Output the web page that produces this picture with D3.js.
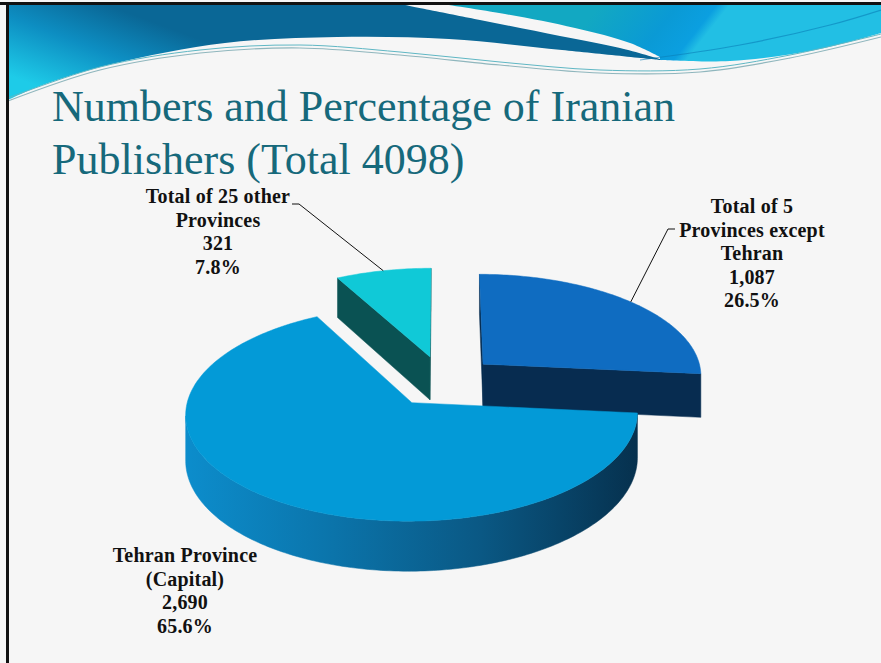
<!DOCTYPE html>
<html>
<head>
<meta charset="utf-8">
<script src="https://cdn.jsdelivr.net/npm/d3@7"></script>
<style>
  html, body { margin: 0; padding: 0; background: #f6f6f6; }
  svg { display: block; }
</style>
</head>
<body>
<script>
// ---- data -------------------------------------------------------------
const categories = ["Total of 5 Provinces except Tehran", "Tehran Province (Capital)", "Total of 25 other Provinces"];
const labelLines = [["Total of 5", "Provinces except", "Tehran"], ["Tehran Province", "(Capital)"], ["Total of 25 other", "Provinces"]];
const publishers = [1087, 2690, 321];
const titleLines = ["Numbers and Percentage of Iranian", "Publishers (Total {total})"];

// ---- styling / layout ---------------------------------------------------
const W = 881, H = 663;
const topColors  = ["#0f6cc1", "#039ad7", "#10c9d7"];
const wallColors = ["#072c50", "url(#tehranWall)", "#0a5253"];
const labelLayout = [
  { x: 752, y: 213, leader: [[675, 229], [668, 229]] },
  { x: 185, y: 562, leader: null },
  { x: 218, y: 203, leader: [[292, 204], [299, 204]] }
];
const lineGap = 23.5;

// 3D pie geometry (unit-radius disc, perspective projection)
const geo = { cx: 443, cy: 381, kx: 220, ky: 102, persp: 0.1, depth: 44, explode: 0.25 };

const svg = d3.select("body").append("svg").attr("width", W).attr("height", H);
const defs = svg.append("defs");

svg.append("rect").attr("width", W).attr("height", H).attr("fill", "#f6f6f6");

// ---- slide header decoration --------------------------------------------
const gL = defs.append("linearGradient").attr("id", "hdrLeft")
  .attr("gradientUnits", "userSpaceOnUse").attr("x1", 110).attr("y1", 6).attr("x2", 75).attr("y2", 100);
gL.append("stop").attr("offset", 0).attr("stop-color", "#0a6796");
gL.append("stop").attr("offset", 0.45).attr("stop-color", "#0d8ec2");
gL.append("stop").attr("offset", 1).attr("stop-color", "#1ecbe8");

const gR = defs.append("linearGradient").attr("id", "hdrRight")
  .attr("gradientUnits", "userSpaceOnUse").attr("x1", 600).attr("y1", 5).attr("x2", 680).attr("y2", 68);
gR.append("stop").attr("offset", 0).attr("stop-color", "#12a8c2");
gR.append("stop").attr("offset", 0.6).attr("stop-color", "#0a9ad5");
gR.append("stop").attr("offset", 0.9).attr("stop-color", "#0b9fe0");
gR.append("stop").attr("offset", 1).attr("stop-color", "#22bfe4");

const smooth = d3.line().curve(d3.curveCatmullRom.alpha(0.5));
const lowerEdge = [[881, 33], [815, 50], [730, 61], [660, 60], [562, 50], [449, 39], [337, 37], [225, 43], [112, 64], [40, 86], [8, 100]];

svg.append("path")
  .attr("d", "M8,4 L400,4 " + smooth([[400, 4], [480, 20], [560, 36], [620, 48], [660, 59]]).replace(/^M/, "L") +
    smooth(lowerEdge.slice(3)).replace(/^M/, "L") + " Z")
  .attr("fill", "url(#hdrLeft)");

svg.append("path")
  .attr("d", "M442,4 L881,4 " + smooth(lowerEdge.slice(0, 4)).replace(/^M/, "L") +
    smooth([[660, 57], [630, 43], [575, 28], [505, 14], [442, 4]]).replace(/^M/, "L") + " Z")
  .attr("fill", "url(#hdrRight)");

// faint highlight streak across the right band
svg.append("path")
  .attr("d", smooth([[640, 60], [740, 45], [830, 25], [881, 10]]))
  .attr("fill", "none").attr("stroke", "#0a7fb8").attr("stroke-width", 1.2).attr("opacity", 0.6);

// thin double wave under the band
const waveA = [[8, 101], [100, 70], [200, 53], [300, 48], [400, 55], [500, 65], [600, 73], [700, 72], [790, 58], [881, 37]];
svg.append("path").attr("d", smooth(waveA)).attr("fill", "none")
  .attr("stroke", "#8fb6bd").attr("stroke-width", 1.2);
svg.append("path").attr("d", smooth(waveA.map(([x, y]) => [x, y - 3]))).attr("fill", "none")
  .attr("stroke", "#5fb7c4").attr("stroke-width", 1);

// slide frame
svg.append("rect").attr("x", 0).attr("y", 2).attr("width", W).attr("height", 3).attr("fill", "#111");
svg.append("rect").attr("x", 6).attr("y", 2).attr("width", 3).attr("height", H).attr("fill", "#111");

// ---- title -------------------------------------------------------------
const total = d3.sum(publishers);
svg.append("g").selectAll("text").data(titleLines).join("text")
  .attr("x", 52).attr("y", (d, i) => 121 + i * 53)
  .attr("font-family", "'Liberation Serif', 'Times New Roman', serif")
  .attr("font-size", 44).attr("fill", "#16697b")
  .text(d => d.replace("{total}", total));

// ---- 3D pie --------------------------------------------------------------
const pie = d3.pie().sort(null).startAngle(0).endAngle(2 * Math.PI);
const arcs = pie(publishers);

function proj(X, Z, down) {
  const s = 1 / (1 + geo.persp * Z);
  return [geo.cx + geo.kx * X * s, geo.cy - geo.ky * Z * s + down * s];
}
function centerOf(d) {
  const m = (d.startAngle + d.endAngle) / 2;
  return [geo.explode * Math.sin(m), geo.explode * Math.cos(m)];
}
function rim(d, a, down) {
  const [xc, zc] = centerOf(d);
  return proj(xc + Math.sin(a), zc + Math.cos(a), down);
}
function apex(d, down) {
  const [xc, zc] = centerOf(d);
  return proj(xc, zc, down);
}
function arcPts(d, a0, a1, down) {
  const n = Math.max(2, Math.ceil((a1 - a0) / (Math.PI / 180)) + 1);
  return d3.range(n).map(i => rim(d, a0 + (a1 - a0) * i / (n - 1), down));
}
// camera sits in front of the disc at Z = -1/persp
function facing(nx, nz, px, pz) {
  return nx * (0 - px) + nz * (-1 / geo.persp - pz) > 0;
}
const poly = pts => "M" + pts.map(p => p.join(",")).join("L") + "Z";

// gradient on Tehran's curved wall
const tW = defs.append("linearGradient").attr("id", "tehranWall")
  .attr("gradientUnits", "userSpaceOnUse").attr("x1", 185).attr("y1", 0).attr("x2", 640).attr("y2", 0);
tW.append("stop").attr("offset", 0).attr("stop-color", "#0c8dcc");
tW.append("stop").attr("offset", 0.3).attr("stop-color", "#0b76ad");
tW.append("stop").attr("offset", 0.65).attr("stop-color", "#0a5884");
tW.append("stop").attr("offset", 1).attr("stop-color", "#06304d");

const pieG = svg.append("g");
// painter's order: back slices first
const drawOrder = [2, 0, 1];
drawOrder.forEach(i => {
  const d = arcs[i];
  const g = pieG.append("g");
  const a0 = d.startAngle, a1 = d.endAngle, h = geo.depth;
  const [xc, zc] = centerOf(d);
  const flat = wallColors[i].startsWith("url") ? "#0a5884" : wallColors[i];

  // flat cut walls
  [[a0, a0 - Math.PI / 2], [a1, a1 + Math.PI / 2]].forEach(([a, na]) => {
    const px = xc + 0.5 * Math.sin(a), pz = zc + 0.5 * Math.cos(a);
    if (facing(Math.sin(na), Math.cos(na), px, pz)) {
      g.append("path")
        .attr("d", poly([apex(d, 0), rim(d, a, 0), rim(d, a, h), apex(d, h)]))
        .attr("fill", flat).attr("stroke", flat).attr("stroke-width", 0.5);
    }
  });

  // curved outer wall, only the part that faces the camera
  const steps = d3.range(a0, a1 + 1e-9, Math.PI / 360).concat([a1]);
  const vis = steps.filter(a => facing(Math.sin(a), Math.cos(a), xc + Math.sin(a), zc + Math.cos(a)));
  if (vis.length > 1) {
    const lo = d3.min(vis), hi = d3.max(vis);
    const top = arcPts(d, lo, hi, 0), bot = arcPts(d, lo, hi, h).reverse();
    g.append("path").attr("d", poly(top.concat(bot)))
      .attr("fill", wallColors[i]).attr("stroke", wallColors[i]).attr("stroke-width", 0.5);
  }

  // top face
  g.append("path").attr("d", poly([apex(d, 0)].concat(arcPts(d, a0, a1, 0))))
    .attr("fill", topColors[i]).attr("stroke", topColors[i]).attr("stroke-width", 0.5);
});

// ---- data labels ---------------------------------------------------------
const fmtN = d3.format(","), fmtP = d3.format(".1%");
const labelG = svg.append("g")
  .attr("font-family", "'Liberation Serif', 'Times New Roman', serif")
  .attr("font-weight", "bold").attr("font-size", 20).attr("letter-spacing", 0.2).attr("fill", "#111")
  .attr("text-anchor", "middle");

arcs.forEach((d, i) => {
  const L = labelLayout[i];
  const lines = labelLines[i].concat([fmtN(publishers[i]), fmtP(publishers[i] / total)]);
  labelG.append("g").selectAll("text").data(lines).join("text")
    .attr("x", L.x).attr("y", (t, j) => L.y + j * lineGap).text(t => t);
  if (L.leader) {
    const m = (d.startAngle + d.endAngle) / 2;
    const end = rim(d, m, 0);
    svg.append("path")
      .attr("d", "M" + L.leader[0].join(",") + "L" + L.leader[1].join(",") + "L" + end.join(","))
      .attr("fill", "none").attr("stroke", "#111").attr("stroke-width", 1);
  }
});
</script>
</body>
</html>
